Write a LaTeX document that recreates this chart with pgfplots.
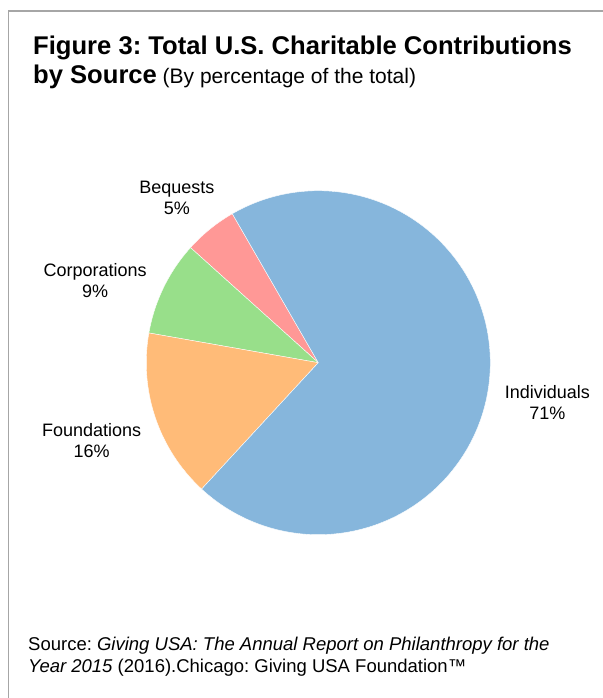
\documentclass[border=0pt]{standalone}
\usepackage{pgfplots}
\pgfplotsset{compat=1.18}
\usepackage{fontspec}
\setmainfont{Liberation Sans}
\frenchspacing
\definecolor{cInd}{RGB}{134,182,220}
\definecolor{cFou}{RGB}{255,187,120}
\definecolor{cCor}{RGB}{152,223,138}
\definecolor{cBeq}{RGB}{255,152,150}
% slice shares (percent of total)
\def\pBeq{5.0}
\def\pCor{8.9}
\def\pFou{15.9}
\def\pInd{70.2}
\pgfmathsetmacro\aA{120}
\pgfmathsetmacro\aB{\aA+3.6*\pBeq}
\pgfmathsetmacro\aC{\aB+3.6*\pCor}
\pgfmathsetmacro\aD{\aC+3.6*\pFou}
\pgfmathsetmacro\aE{\aD+3.6*\pInd}
\begin{document}
\begin{tikzpicture}
\path[use as bounding box] (0bp,0bp) rectangle (603bp,698bp);
\draw[color=black!35, line width=1.5bp] (8.5bp,0bp) -- (8.5bp,687bp) -- (603bp,687bp);
\node[anchor=base west, inner sep=0pt, font=\fontsize{25.6bp}{29bp}\selectfont\bfseries] at (33bp,643bp) {Figure 3: Total U.S. Charitable Contributions};
\node[anchor=base west, inner sep=0pt] at (33bp,614bp) {{\fontsize{25.6bp}{29bp}\selectfont\bfseries by Source}\hspace{3bp} {\fontsize{21bp}{24bp}\selectfont (By percentage of the total)}};
\node[anchor=base west, inner sep=0pt, font=\fontsize{18.5bp}{21bp}\selectfont] at (28bp,47bp) {Source: \textit{Giving USA: The Annual Report on Philanthropy for the}};
\node[anchor=base west, inner sep=0pt, font=\fontsize{18.5bp}{21bp}\selectfont] at (28bp,26bp) {\textit{Year 2015} (2016).Chicago: Giving USA Foundation™};
\begin{axis}[
  at={(318.3bp,335.3bp)}, anchor=center,
  x=172bp, y=172bp,
  xmin=-1.1, xmax=1.1, ymin=-1.1, ymax=1.1,
  hide axis, clip=false,
]
\addplot[fill=cBeq, draw=white, line width=0.4bp, domain=\aA:\aB, samples=30] ({cos(x)},{sin(x)}) -- (axis cs:0,0) -- cycle;
\addplot[fill=cCor, draw=white, line width=0.4bp, domain=\aB:\aC, samples=40] ({cos(x)},{sin(x)}) -- (axis cs:0,0) -- cycle;
\addplot[fill=cFou, draw=white, line width=0.4bp, domain=\aC:\aD, samples=60] ({cos(x)},{sin(x)}) -- (axis cs:0,0) -- cycle;
\addplot[fill=cInd, draw=white, line width=0.4bp, domain=\aD:\aE, samples=200] ({cos(x)},{sin(x)}) -- (axis cs:0,0) -- cycle;
\begin{scope}[every node/.style={align=center, font=\fontsize{18bp}{21bp}\selectfont}]
\node at (axis cs:1.332,-0.230) {Individuals\\71\%};
\node at (axis cs:-1.318,-0.455) {Foundations\\16\%};
\node at (axis cs:-1.298,0.475) {Corporations\\9\%};
\node at (axis cs:-0.822,0.957) {Bequests\\5\%};
\end{scope}
\end{axis}
\end{tikzpicture}
\end{document}
